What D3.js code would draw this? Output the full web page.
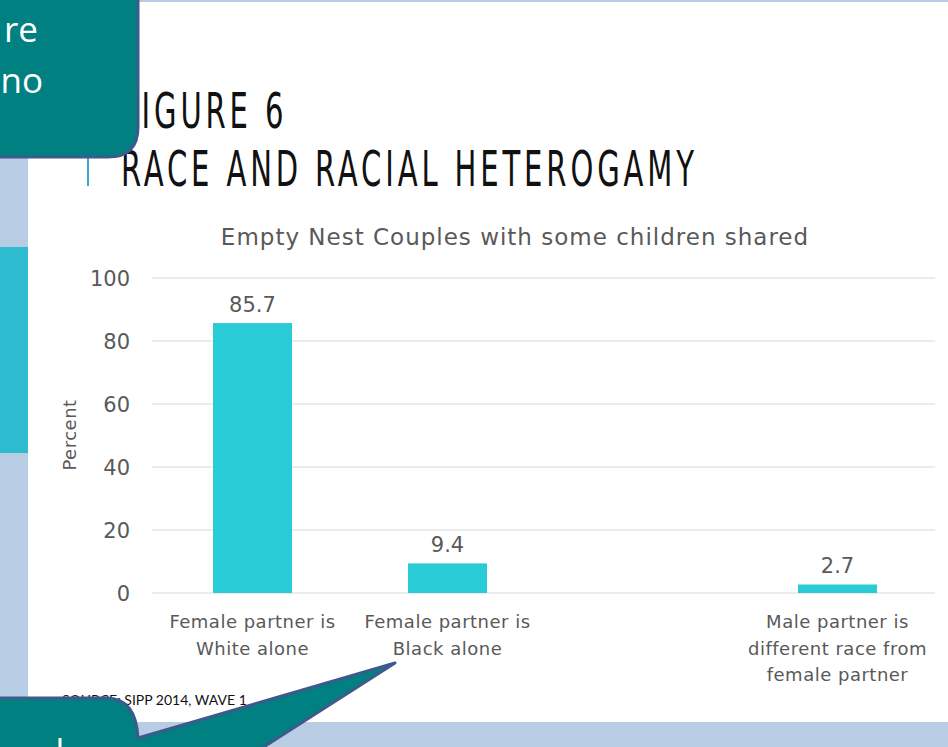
<!DOCTYPE html>
<html>
<head>
    <meta charset="utf-8" />
    <title>Figure 6 - Race and racial heterogamy</title>
    <style>
        body { margin: 0; background: #b8cce4; }
        svg { display: block; }
        .chart-text { font-family: "DejaVu Sans", Lato, sans-serif; fill: #595959; }
        .headline { font-family: "Liberation Sans Narrow", "DejaVu Sans Condensed", sans-serif; fill: #111; font-size: 50px; letter-spacing: 6px; }
    </style>
    <script src="https://cdn.jsdelivr.net/npm/d3@7/dist/d3.min.js"></script>
</head>
<body>
<script>
    // data
    const categories = ["white", "black", "gap", "mixed"];
    const categoryLines = [
        ["Female partner is", "White alone"],
        ["Female partner is", "Black alone"],
        [],
        ["Male partner is", "different race from", "female partner"]
    ];
    const values = [85.7, 9.4, null, 2.7];
    const yTicks = [0, 20, 40, 60, 80, 100];

    const W = 948, H = 747;
    const plot = { left: 155, right: 935, top: 278, bottom: 593 };

    const svg = d3.select('body').append('svg')
        .attr('width', W)
        .attr('height', H);

    // slide background: blue frame, white page
    svg.append('rect').attr('width', W).attr('height', H).attr('fill', '#b8cce4');
    svg.append('rect')
        .attr('x', 28).attr('y', 2)
        .attr('width', W - 28).attr('height', 720)
        .attr('fill', '#ffffff');
    // turquoise block on the left strip
    svg.append('rect')
        .attr('x', 0).attr('y', 247)
        .attr('width', 28).attr('height', 206)
        .attr('fill', '#2dbccf');
    // thin accent line next to the title
    svg.append('line')
        .attr('x1', 88).attr('x2', 88)
        .attr('y1', 157).attr('y2', 186)
        .attr('stroke', '#41a9cf').attr('stroke-width', 2);

    // title, squeezed horizontally to the slide's condensed face
    const head = svg.append('g');
    head.append('text').attr('class', 'headline').attr('y', 128).text('FIGURE 6');
    const line2 = head.append('text').attr('class', 'headline').attr('y', 186)
        .text('RACE AND RACIAL HETEROGAMY');
    const sx = 577 / line2.node().getComputedTextLength();
    head.attr('transform', 'translate(121,0) scale(' + sx + ',1)');

    // scales
    const x = d3.scaleBand()
        .domain(categories)
        .range([plot.left, plot.right])
        .paddingInner(0.595)
        .paddingOuter(0.2975);
    const y = d3.scaleLinear()
        .domain([0, 100])
        .range([plot.bottom, plot.top]);

    const g = svg.append('g');

    // gridlines
    g.selectAll('.grid')
        .data(yTicks)
        .enter().append('line')
        .attr('class', 'grid')
        .attr('x1', plot.left - 3).attr('x2', plot.right)
        .attr('y1', d => y(d)).attr('y2', d => y(d))
        .attr('stroke', '#d9d9d9')
        .attr('stroke-width', 1);

    // y axis labels
    g.selectAll('.ytick')
        .data(yTicks)
        .enter().append('text')
        .attr('class', 'chart-text')
        .attr('x', 130)
        .attr('y', d => y(d) + 8)
        .attr('text-anchor', 'end')
        .style('font-size', '21px')
        .text(d => d);

    g.append('text')
        .attr('class', 'chart-text')
        .attr('transform', 'translate(76,435) rotate(-90)')
        .attr('text-anchor', 'middle')
        .style('font-size', '18px')
        .style('letter-spacing', '0.5px')
        .text('Percent');

    // chart title
    g.append('text')
        .attr('class', 'chart-text')
        .attr('x', 515).attr('y', 245)
        .attr('text-anchor', 'middle')
        .style('font-size', '23px')
        .style('letter-spacing', '1px')
        .text('Empty Nest Couples with some children shared');

    const rows = categories.map((c, i) => ({ key: c, value: values[i], lines: categoryLines[i] }));

    // bars
    g.selectAll('.bar')
        .data(rows.filter(d => d.value != null))
        .enter().append('rect')
        .attr('class', 'bar')
        .attr('x', d => x(d.key))
        .attr('width', x.bandwidth())
        .attr('y', d => y(d.value))
        .attr('height', d => y(0) - y(d.value))
        .attr('fill', '#29cbd6');

    // value labels
    g.selectAll('.value')
        .data(rows.filter(d => d.value != null))
        .enter().append('text')
        .attr('class', 'chart-text')
        .attr('x', d => x(d.key) + x.bandwidth() / 2)
        .attr('y', d => y(d.value) - 11)
        .attr('text-anchor', 'middle')
        .style('font-size', '21px')
        .text(d => d.value);

    // category labels
    const cat = g.selectAll('.cat')
        .data(rows)
        .enter().append('text')
        .attr('class', 'chart-text')
        .attr('text-anchor', 'middle')
        .style('font-size', '18px')
        .style('letter-spacing', '0.5px');
    cat.selectAll('tspan')
        .data(d => d.lines.map(l => ({ key: d.key, line: l })))
        .enter().append('tspan')
        .attr('x', d => x(d.key) + x.bandwidth() / 2)
        .attr('y', (d, i) => 628 + i * 26.5)
        .text(d => d.line);

    // source note
    svg.append('text')
        .attr('x', 62).attr('y', 705)
        .style('font-family', 'Lato, sans-serif')
        .style('font-size', '14px')
        .attr('fill', '#111')
        .text('SOURCE: SIPP 2014, WAVE 1');

    // callouts overlapping the slide
    const calloutFill = '#008080', calloutStroke = '#3d5a8c';
    svg.append('path')
        .attr('d', 'M-10,-10 L138,-10 L138,127 Q138,157 108,157 L-10,157 Z')
        .attr('fill', calloutFill)
        .attr('stroke', calloutStroke)
        .attr('stroke-width', 3);
    svg.append('text')
        .attr('x', 38).attr('y', 42)
        .attr('text-anchor', 'end')
        .style('font-family', '"Open Sans", sans-serif')
        .style('font-size', '35px')
        .attr('fill', '#fff')
        .text('re');
    svg.append('text')
        .attr('x', 43).attr('y', 93)
        .attr('text-anchor', 'end')
        .style('font-family', '"Open Sans", sans-serif')
        .style('font-size', '35px')
        .attr('fill', '#fff')
        .text('no');

    svg.append('path')
        .attr('d', 'M-10,698 L106,698 Q136,698 138,738 L395,663 L248,757 L-10,757 Z')
        .attr('fill', calloutFill)
        .attr('stroke', calloutStroke)
        .attr('stroke-width', 3)
        .attr('stroke-linejoin', 'round');
    // top of a letter from the hidden callout text
    svg.append('line')
        .attr('x1', 60).attr('x2', 60)
        .attr('y1', 738).attr('y2', 747)
        .attr('stroke', '#fff').attr('stroke-width', 3);
</script>
</body>
</html>
